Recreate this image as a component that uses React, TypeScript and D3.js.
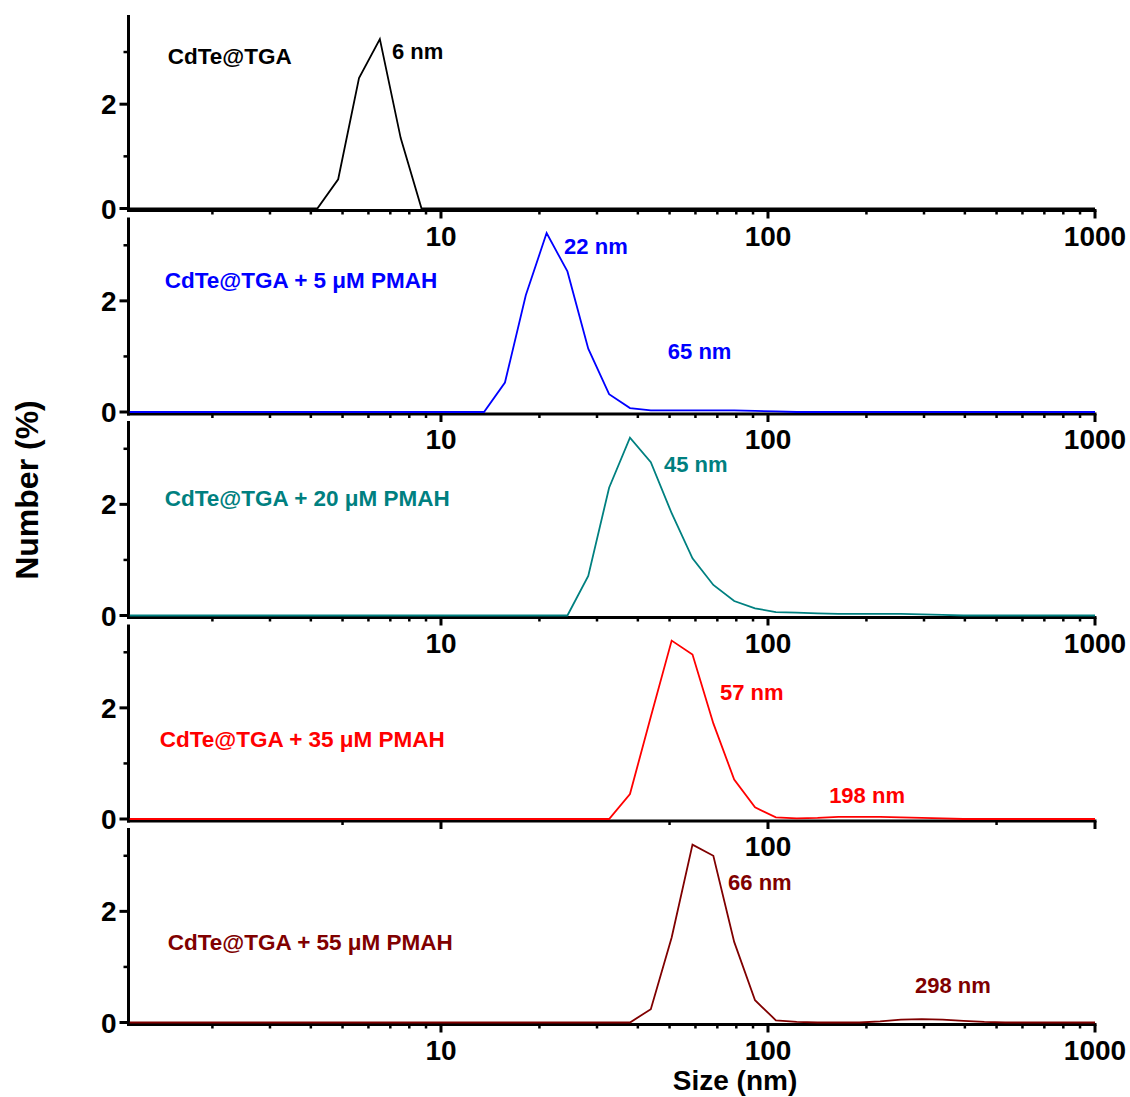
import React from "react";
import * as d3 from "d3";

// DLS size bins (nm)
const sizes = [1.117, 1.294, 1.499, 1.736, 2.01, 2.328, 2.696, 3.122, 3.615, 4.187, 4.849, 5.615, 6.503, 7.531, 8.721, 10.1, 11.7, 13.54, 15.69, 18.17, 21.04, 24.36, 28.21, 32.67, 37.84, 43.82, 50.75, 58.77, 68.06, 78.82, 91.28, 105.7, 122.4, 141.8, 164.2, 190.1, 220.2, 255.0, 295.3, 342.0, 396.1, 458.7, 531.2, 615.1, 712.4, 825.0, 955.4, 1106];

const pure = [0, 0, 0, 0, 0, 0, 0, 0, 0, 0, 0.56, 2.5, 3.25, 1.35, 0, 0, 0, 0, 0, 0, 0, 0, 0, 0, 0, 0, 0, 0, 0, 0, 0, 0, 0, 0, 0, 0, 0, 0, 0, 0, 0, 0, 0, 0, 0, 0, 0, 0];
const pmah5 = [0, 0, 0, 0, 0, 0, 0, 0, 0, 0, 0, 0, 0, 0, 0, 0, 0, 0, 0.53, 2.1, 3.22, 2.53, 1.14, 0.32, 0.07, 0.03, 0.03, 0.03, 0.03, 0.03, 0.02, 0.01, 0, 0, 0, 0, 0, 0, 0, 0, 0, 0, 0, 0, 0, 0, 0, 0];
const pmah20 = [0, 0, 0, 0, 0, 0, 0, 0, 0, 0, 0, 0, 0, 0, 0, 0, 0, 0, 0, 0, 0, 0, 0.71, 2.3, 3.2, 2.76, 1.84, 1.03, 0.55, 0.26, 0.13, 0.06, 0.05, 0.04, 0.03, 0.03, 0.03, 0.03, 0.02, 0.01, 0, 0, 0, 0, 0, 0, 0, 0];
const pmah35 = [0, 0, 0, 0, 0, 0, 0, 0, 0, 0, 0, 0, 0, 0, 0, 0, 0, 0, 0, 0, 0, 0, 0, 0, 0.45, 1.84, 3.21, 2.96, 1.72, 0.71, 0.21, 0.03, 0.01, 0.02, 0.04, 0.04, 0.04, 0.03, 0.02, 0.01, 0, 0, 0, 0, 0, 0, 0, 0];
const pmah55 = [0, 0, 0, 0, 0, 0, 0, 0, 0, 0, 0, 0, 0, 0, 0, 0, 0, 0, 0, 0, 0, 0, 0, 0, 0, 0.24, 1.53, 3.2, 3.0, 1.45, 0.4, 0.04, 0.01, 0, 0, 0, 0.02, 0.05, 0.06, 0.05, 0.03, 0.01, 0, 0, 0, 0, 0, 0];

const seriesValues = [pure, pmah5, pmah20, pmah35, pmah55];
const seriesLabels = ["CdTe@TGA", "CdTe@TGA + 5 \u03BCM PMAH", "CdTe@TGA + 20 \u03BCM PMAH", "CdTe@TGA + 35 \u03BCM PMAH", "CdTe@TGA + 55 \u03BCM PMAH"];
const seriesColors = ["#000000", "#0000FF", "#008080", "#FF0000", "#800000"];
const yMaxes = [3.71, 3.5, 3.5, 3.5, 3.5];

// label anchor in data coords [size, value]
const legendPos = [[1.46, 2.78], [1.43, 2.23], [1.43, 1.97], [1.38, 1.29], [1.46, 1.3]];
// peak annotations: [panel, text, size, value]
const peakNotes: [number, string, number, number][] = [
  [0, "6 nm", 7.08, 2.86],
  [1, "22 nm", 23.8, 2.85],
  [1, "65 nm", 49.4, 0.95],
  [2, "45 nm", 48.1, 2.58],
  [3, "57 nm", 71.3, 2.14],
  [3, "198 nm", 153.8, 0.29],
  [4, "66 nm", 75.5, 2.38],
  [4, "298 nm", 281.6, 0.53],
];

const xMajor = [10, 100, 1000];
const xMinor = [2, 3, 4, 5, 6, 7, 8, 9, 20, 30, 40, 50, 60, 70, 80, 90, 200, 300, 400, 500, 600, 700, 800, 900];
const panel4Ticks = [5, 10, 50, 100, 500, 1000];
const panel4Labels = [100];
const yMajor = [0, 2];
const yMinor = [1, 3];

const FONT = "'Liberation Sans', Arial, Helvetica, sans-serif";

export default function App() {
  const W = 1130, H = 1097;
  const x = d3.scaleLog().domain([1.1, 1000]).range([127.5, 1095]);
  const left = 128.5;
  const right = 1095;

  const panels = seriesValues.map((vals, i) => {
    const zero = 208.5 + 203.5 * i;
    const top = i === 0 ? 15 : zero - 194.5;
    const y = d3.scaleLinear().domain([0, yMaxes[i]]).range([zero, top]);
    return { vals, zero, top, y, i };
  });

  return (
    <div style={{ position: "absolute", left: 0, top: 0 }}>
      <svg width={W} height={H} style={{ display: "block", background: "#fff" }} fontFamily={FONT}>
        <defs>
          {panels.map((p) => (
            <clipPath id={`clip${p.i}`} key={p.i}>
              <rect x={left} y={p.top - 5} width={right - left} height={p.zero - p.top + 8} />
            </clipPath>
          ))}
        </defs>
        {panels.map((p) => {
          const { y, zero, top, i } = p;
          const line = d3
            .line<number>()
            .x((_, k) => x(sizes[k]))
            .y((d) => y(d));
          const axisY = zero + 2;
          const majors = i === 3 ? panel4Ticks.filter((t) => xMajor.includes(t)) : xMajor;
          const minors = i === 3 ? panel4Ticks.filter((t) => !xMajor.includes(t)) : xMinor;
          const labels = i === 3 ? panel4Labels : xMajor;
          return (
            <g key={i}>
              {/* x axis */}
              <line x1={left - 1.5} x2={right + 1.5} y1={axisY} y2={axisY} stroke="#000" strokeWidth={3} />
              {majors.map((t) => (
                <line key={"M" + t} x1={x(t)} x2={x(t)} y1={axisY} y2={zero + 10} stroke="#000" strokeWidth={3} />
              ))}
              {minors.map((t) => (
                <line key={"m" + t} x1={x(t)} x2={x(t)} y1={axisY} y2={zero + 6} stroke="#000" strokeWidth={2.5} />
              ))}
              {labels.map((t) => (
                <text key={"l" + t} x={x(t)} y={zero + 37} fontSize={28} fontWeight="bold" textAnchor="middle" fill="#000">
                  {t}
                </text>
              ))}
              {/* y axis */}
              <line x1={left} x2={left} y1={top} y2={zero + 3.5} stroke="#000" strokeWidth={3} />
              {yMajor.map((t) => (
                <line key={"yM" + t} x1={left - 9} x2={left} y1={y(t)} y2={y(t)} stroke="#000" strokeWidth={3} />
              ))}
              {yMinor.map((t) => (
                <line key={"ym" + t} x1={left - 5} x2={left} y1={y(t)} y2={y(t)} stroke="#000" strokeWidth={2.5} />
              ))}
              {yMajor.map((t) => (
                <text key={"yl" + t} x={left - 12} y={y(t)} dy="0.36em" fontSize={28} fontWeight="bold" textAnchor="end" fill="#000">
                  {t}
                </text>
              ))}
              {/* data */}
              <path d={line(p.vals) || ""} fill="none" stroke={seriesColors[i]} strokeWidth={1.8} clipPath={`url(#clip${i})`} strokeLinejoin="miter" />
              {/* legend label */}
              <text x={x(legendPos[i][0])} y={y(legendPos[i][1])} fontSize={22.5} fontWeight="bold" fill={seriesColors[i]}>
                {seriesLabels[i]}
              </text>
              {peakNotes
                .filter((n) => n[0] === i)
                .map((n) => (
                  <text key={n[1]} x={x(n[2])} y={y(n[3])} fontSize={22} fontWeight="bold" fill={seriesColors[i]}>
                    {n[1]}
                  </text>
                ))}
            </g>
          );
        })}
        <text transform="translate(38,490) rotate(-90)" textAnchor="middle" fontSize={32} fontWeight="bold" fill="#000">
          Number (%)
        </text>
        <text x={735} y={1090} textAnchor="middle" fontSize={28} fontWeight="bold" fill="#000">
          Size (nm)
        </text>
      </svg>
    </div>
  );
}
